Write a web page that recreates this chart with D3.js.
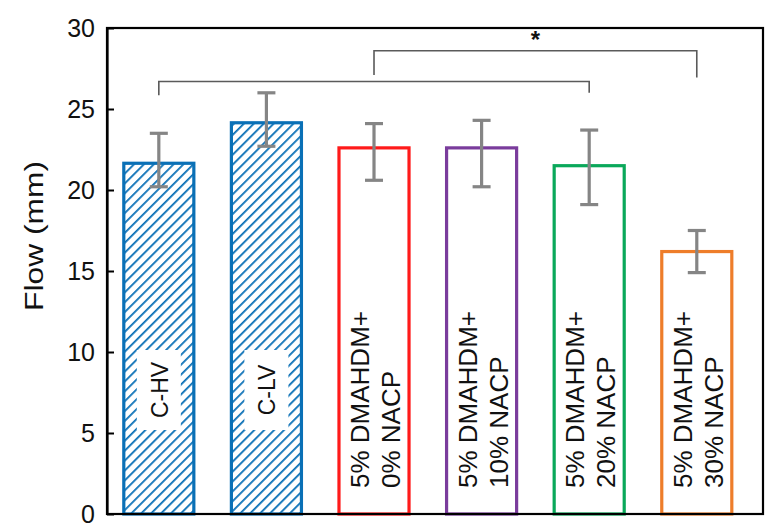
<!DOCTYPE html>
<html>
<head>
<meta charset="utf-8">
<script src="https://cdn.jsdelivr.net/npm/d3@7"></script>
<style>
  html, body { margin: 0; padding: 0; background: #fff; }
  svg { display: block; font-family: "Liberation Sans", Arial, sans-serif; }
</style>
</head>
<body>
<svg id="chart" width="773" height="526"></svg>
<script>
// ---- data ----
const categories = ["C-HV", "C-LV", "0% NACP", "10% NACP", "20% NACP", "30% NACP"];
const labelLine1 = ["C-HV", "C-LV", "5% DMAHDM+", "5% DMAHDM+", "5% DMAHDM+", "5% DMAHDM+"];
const labelLine2 = ["", "", "0% NACP", "10% NACP", "20% NACP", "30% NACP"];
const meanFlow = [21.65, 24.15, 22.6, 22.6, 21.5, 16.2];
const errUpper = [23.5, 26.0, 24.1, 24.3, 23.7, 17.5];
const errLower = [20.2, 22.7, 20.6, 20.2, 19.1, 14.9];
const hatched = [true, true, false, false, false, false];
const barColors = ["#0a70b6", "#0a70b6", "#ff1a1a", "#7a3c9c", "#0aa85a", "#ee7d2a"];
const yTicks = [0, 5, 10, 15, 20, 25, 30];
// significance brackets
const brackets = [
  { from: 0, to: 4, level: 26.7, leftEnd: 25.85, rightEnd: 26.0, star: false },
  { from: 2, to: 5, level: 28.6, leftEnd: 27.1, rightEnd: 26.95, star: true }
];

// ---- layout ----
const svg = d3.select("#chart");
const mLeft = 107, mRight = 763, mTop = 28, mBottom = 514;

const x = d3.scaleBand()
  .domain(categories)
  .range([mLeft, mRight])
  .paddingInner(0.349)
  .paddingOuter(0.223)
  .align(0.35);

const y = d3.scaleLinear().domain([0, 30]).range([mBottom, mTop]);

// hatch pattern
const defs = svg.append("defs");
const pat = defs.append("pattern")
  .attr("id", "hatch")
  .attr("patternUnits", "userSpaceOnUse")
  .attr("width", 7).attr("height", 7)
  .attr("patternTransform", "rotate(45)");
pat.append("rect").attr("width", 7).attr("height", 7).attr("fill", "#fff");
pat.append("line")
  .attr("x1", 0).attr("y1", 0).attr("x2", 0).attr("y2", 7)
  .attr("stroke", "#0a70b6").attr("stroke-width", 3.6);

// bars
const bw = x.bandwidth();
svg.append("g").selectAll("rect")
  .data(categories)
  .join("rect")
  .attr("x", d => x(d))
  .attr("y", (d, i) => y(meanFlow[i]))
  .attr("width", bw)
  .attr("height", (d, i) => y(0) - y(meanFlow[i]))
  .attr("fill", (d, i) => hatched[i] ? "url(#hatch)" : "#fff")
  .attr("stroke", (d, i) => barColors[i])
  .attr("stroke-width", 3.2);

// labels inside bars
const lab = svg.append("g");
categories.forEach((c, i) => {
  const cx = x(c) + bw / 2;
  if (hatched[i]) {
    const cy = 390;
    lab.append("rect")
      .attr("x", cx - 22).attr("y", cy - 40)
      .attr("width", 44).attr("height", 80)
      .attr("fill", "#fff");
    lab.append("text")
      .attr("transform", `translate(${cx + 1},${cy}) rotate(-90)`)
      .attr("text-anchor", "middle")
      .attr("dominant-baseline", "central")
      .attr("font-size", 23)
      .attr("fill", "#111")
      .text(labelLine1[i]);
  } else {
    lab.append("text")
      .attr("transform", `translate(${cx - 5},488) rotate(-90)`)
      .attr("text-anchor", "start")
      .attr("font-size", 26)
      .attr("fill", "#111")
      .text(labelLine1[i]);
    lab.append("text")
      .attr("transform", `translate(${cx + 26},488) rotate(-90)`)
      .attr("text-anchor", "start")
      .attr("font-size", 26)
      .attr("fill", "#111")
      .text(labelLine2[i]);
  }
});

// error bars
const eb = svg.append("g").attr("stroke", "#858585").attr("stroke-width", 3.2).attr("fill", "none");
categories.forEach((c, i) => {
  const cx = x(c) + bw / 2;
  eb.append("line").attr("x1", cx).attr("x2", cx).attr("y1", y(errUpper[i])).attr("y2", y(errLower[i]));
  eb.append("line").attr("x1", cx - 9).attr("x2", cx + 9).attr("y1", y(errUpper[i])).attr("y2", y(errUpper[i]));
  eb.append("line").attr("x1", cx - 9).attr("x2", cx + 9).attr("y1", y(errLower[i])).attr("y2", y(errLower[i]));
});

// significance brackets
const br = svg.append("g").attr("stroke", "#5a5a5a").attr("stroke-width", 1.6).attr("fill", "none");
brackets.forEach(b => {
  const x1 = x(categories[b.from]) + bw / 2;
  const x2 = x(categories[b.to]) + bw / 2;
  br.append("path")
    .attr("d", `M${x1},${y(b.leftEnd)}V${y(b.level)}H${x2}V${y(b.rightEnd)}`);
  if (b.star) {
    svg.append("text")
      .attr("x", (x1 + x2) / 2)
      .attr("y", y(b.level) - 3)
      .attr("text-anchor", "middle")
      .attr("font-size", 24)
      .attr("font-weight", "bold")
      .attr("fill", "#111")
      .text("*");
  }
});

// frame
svg.append("rect")
  .attr("x", mLeft).attr("y", mTop)
  .attr("width", mRight - mLeft).attr("height", mBottom - mTop)
  .attr("fill", "none").attr("stroke", "#000").attr("stroke-width", 2.2);

// y axis
const yAxis = svg.append("g")
  .attr("transform", `translate(${mLeft},0)`)
  .call(d3.axisLeft(y).tickValues(yTicks).tickFormat(d3.format("d"))
    .tickSizeInner(-7).tickSizeOuter(0).tickPadding(12));
yAxis.select(".domain").attr("stroke", "#000").attr("stroke-width", 2.2);
yAxis.selectAll(".tick line").attr("stroke", "#000").attr("stroke-width", 2);
yAxis.selectAll(".tick text")
  .attr("font-size", 25)
  .attr("font-family", "Liberation Sans, Arial, sans-serif")
  .attr("fill", "#111");

// y title
svg.append("text")
  .attr("transform", `translate(43,${(160 + 312) / 2}) rotate(-90)`)
  .attr("text-anchor", "middle")
  .attr("font-size", 26)
  .attr("textLength", 150)
  .attr("lengthAdjust", "spacingAndGlyphs")
  .attr("fill", "#111")
  .text("Flow (mm)");
</script>
</body>
</html>
